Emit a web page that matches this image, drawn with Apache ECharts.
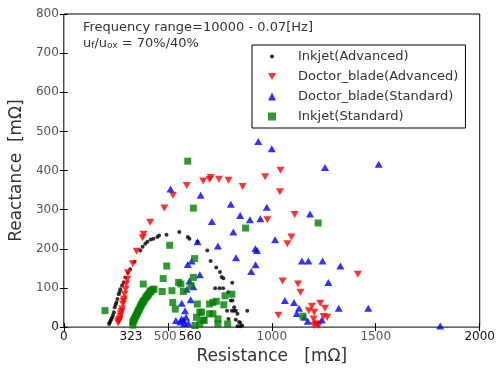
<!DOCTYPE html>
<html>
<head>
<meta charset="utf-8">
<script src="https://cdn.jsdelivr.net/npm/echarts@6/dist/echarts.min.js"></script>
<style>
html,body{margin:0;padding:0;background:#fff;}
#chart{width:498px;height:370px;}
</style>
</head>
<body>
<div id="chart"></div>
<script>
// ---- data (Resistance [mΩ], Reactance [mΩ]) ----
const seriesNames = ['Inkjet(Advanced)', 'Doctor_blade(Advanced)', 'Doctor_blade(Standard)', 'Inkjet(Standard)'];

const inkjetAdvanced = [
  [218,8],[221,12],[225,17],[229,21],[233,25],[237,31],[241,38],[245,51],[249,57],[253,63],
  [258,72],[264,84],[268,90],[272,97],[280,106],[288,114],[296,127],[308,139],[319,148],[340,167],
  [368,196],[379,205],[392,213],[402,218],[418,224],[431,226],[450,230],[458,234],[494,236],[555,243],
  [596,230],[604,226],[643,218],[690,196],[706,169],[733,152],[751,141],[759,128],[767,125],[810,113],
  [728,99],[749,99],[766,99],[791,89],[803,68],[811,68],[819,51],[785,42],[808,42],[818,42],
  [827,42],[882,42],[835,34],[792,21],[827,19],[843,13],[848,11],[858,4],[835,2],[849,2]
];

const doctorBladeAdvanced = [
  [261,11],[264,15],[266,18],[269,21],[271,28],[274,34],[277,40],[280,46],[284,59],[287,66],
  [289,72],[292,84],[297,97],[300,110],[305,122],[308,139],[332,162],[350,194],[379,228],[383,237],
  [415,268],[483,304],[525,337],[591,362],[670,373],[701,377],[706,382],[746,378],[792,375],[860,359],
  [968,384],[1042,401],[1039,346],[1110,288],[979,274],[1094,230],[1075,213],[1414,135],[1052,118],[1126,110],
  [1138,89],[1032,30],[1193,53],[1233,61],[1256,48],[1178,42],[1204,38],[1249,27],[1267,25],[1201,21],
  [1212,8],[1220,7],[1204,4],[1226,5]
];

const doctorBladeStandard = [
  [513,353],[658,337],[803,314],[848,285],[895,274],[945,277],[976,306],[712,270],[815,243],[1016,223],
  [643,218],[741,207],[921,200],[596,160],[615,169],[828,177],[922,159],[901,142],[654,134],[591,97],
  [623,103],[604,118],[610,70],[567,61],[583,42],[539,17],[560,13],[575,18],[588,25],[599,10],
  [566,21],[580,9],[935,474],[1000,456],[1256,408],[1514,416],[1184,289],[929,196],[1145,169],[1176,169],
  [1244,169],[1330,156],[1272,114],[1063,68],[1107,63],[1131,48],[1322,48],[1464,48],[1120,35],[1157,25],
  [1173,15],[1241,18],[1810,3]
];

const inkjetStandard = [
  [596,424],[623,304],[509,209],[874,253],[495,156],[629,175],[478,124],[382,110],[473,91],[434,97],
  [418,91],[520,93],[552,114],[563,110],[575,91],[623,127],[612,106],[524,63],[536,46],[642,59],
  [654,38],[638,25],[701,59],[717,63],[733,66],[701,34],[741,21],[675,17],[769,57],[808,84],
  [775,80],[788,8],[741,8],[670,18],[662,38],[717,34],[631,4],[654,8],[198,42],[1223,266],
  [1150,28],
  [332,5],[332,13],[336,17],[340,21],[344,26],[348,30],[352,34],[355,38],[359,42],[363,46],
  [367,51],[371,55],[375,59],[379,63],[383,66],[387,69],[393,74],[398,78],[403,81],[407,84],
  [413,89],[418,93],[427,96]
];

const xTickLabels = [0, 323, 500, 560, 1000, 1500, 2000];
const yTickLabels = [0, 100, 200, 300, 400, 500, 600, 700, 800];
const annotationLine1 = 'Frequency range=10000 - 0.07[Hz]';

// ---- chart ----
const FONT = 'DejaVu Sans';
const chart = echarts.init(document.getElementById('chart'), null, {renderer: 'canvas'});

const dotSvg = 'image://data:image/svg+xml;charset=utf-8,' + encodeURIComponent(
  '<svg xmlns="http://www.w3.org/2000/svg" width="8" height="8"><circle cx="4" cy="4" r="2" fill="black"/></svg>');
const downTri = 'path://M0,0 L10,0 L5,9 Z';

const option = {
  animation: false,
  backgroundColor: '#fff',
  grid: {left: 63, right: 11, top: 14, bottom: 40, show: true, borderColor: '#000', borderWidth: 1, backgroundColor: 'transparent'},
  xAxis: [
    {
      type: 'value', min: 0, max: 2000, interval: 500, position: 'bottom',
      axisLine: {show: false}, splitLine: {show: false},
      axisTick: {inside: true, length: 4, lineStyle: {color: '#000'}},
      axisLabel: {
        customValues: xTickLabels, margin: 4, fontFamily: FONT, fontSize: 12,
        formatter: function (v) {
          if (v === 323 || v === 0 || v === 2000) return '{k|' + v + '}';
          if (v === 560) return '{r|' + v + '}';
          if (v === 500) return '{l|' + v + '}';
          return '{g|' + v + '}';
        },
        rich: {
          k: {color: '#111', fontFamily: FONT, fontSize: 12},
          g: {color: '#555', fontFamily: FONT, fontSize: 12},
          l: {color: '#555', fontFamily: FONT, fontSize: 12, padding: [0, 5, 0, 0]},
          r: {color: '#111', fontFamily: FONT, fontSize: 12, padding: [0, 0, 0, 20]}
        }
      },
      name: 'Resistance   [mΩ]', nameLocation: 'middle', nameGap: 20,
      nameTextStyle: {fontFamily: FONT, fontSize: 17, color: '#333'}
    },
    {
      type: 'value', min: 0, max: 2000, interval: 500, position: 'top',
      axisLine: {show: false}, splitLine: {show: false},
      axisTick: {inside: true, length: 4, lineStyle: {color: '#000'}},
      axisLabel: {show: false}
    }
  ],
  yAxis: [
    {
      type: 'value', min: 0, max: 800, interval: 100, position: 'left',
      axisLine: {show: false}, splitLine: {show: false},
      axisTick: {inside: true, length: 4, lineStyle: {color: '#000'}},
      axisLabel: {
        customValues: yTickLabels, margin: 5, fontFamily: FONT, fontSize: 12,
        formatter: function (v) { return v === 0 ? '{k|0}' : '{g|' + v + '}'; },
        rich: {
          k: {color: '#111', fontFamily: FONT, fontSize: 12},
          g: {color: '#555', fontFamily: FONT, fontSize: 12}
        }
      },
      name: 'Reactance  [mΩ]', nameLocation: 'middle', nameGap: 34, nameRotate: 90,
      nameTextStyle: {fontFamily: FONT, fontSize: 17, color: '#333'}
    },
    {
      type: 'value', min: 0, max: 800, interval: 100, position: 'right',
      axisLine: {show: false}, splitLine: {show: false},
      axisTick: {inside: true, length: 4, lineStyle: {color: '#000'}},
      axisLabel: {show: false}
    }
  ],
  legend: {
    orient: 'vertical', left: 252, top: 45,
    padding: [5, 7, 5, 16], itemGap: 7, itemWidth: 8, itemHeight: 8,
    borderColor: '#000', borderWidth: 1, backgroundColor: '#fff', borderRadius: 0,
    textStyle: {fontFamily: FONT, fontSize: 13, color: '#333', padding: [0, 0, 0, 17]},
    data: [
      {name: seriesNames[0], icon: dotSvg},
      {name: seriesNames[1]},
      {name: seriesNames[2]},
      {name: seriesNames[3]}
    ]
  },
  graphic: [
    {type: 'text', left: 83, top: 21, z: 10,
      style: {text: annotationLine1, font: '13px "DejaVu Sans"', fill: '#333'}},
    {type: 'text', left: 83, top: 37, z: 10,
      style: {
        text: '{n|u}{s|f}{n|/u}{s|ox}{n| = 70%/40%}',
        rich: {
          n: {fontFamily: FONT, fontSize: 13, lineHeight: 16, verticalAlign: 'bottom', fill: '#333', color: '#333'},
          s: {fontFamily: FONT, fontSize: 9, lineHeight: 6, verticalAlign: 'bottom', fill: '#333', color: '#333'}
        }
      }}
  ],
  series: [
    {name: seriesNames[0], type: 'scatter', data: inkjetAdvanced, symbol: 'circle', symbolSize: 4,
      itemStyle: {color: '#000'}, z: 2},
    {name: seriesNames[1], type: 'scatter', data: doctorBladeAdvanced, symbol: downTri, symbolSize: [8, 7],
      itemStyle: {color: '#ff0000'}, z: 3},
    {name: seriesNames[2], type: 'scatter', data: doctorBladeStandard, symbol: 'triangle', symbolSize: [8, 7],
      itemStyle: {color: '#0000ff'}, z: 4},
    {name: seriesNames[3], type: 'scatter', data: inkjetStandard, symbol: 'rect', symbolSize: 7,
      itemStyle: {color: '#008000'}, z: 5}
  ]
};
chart.setOption(option);
</script>
</body>
</html>
